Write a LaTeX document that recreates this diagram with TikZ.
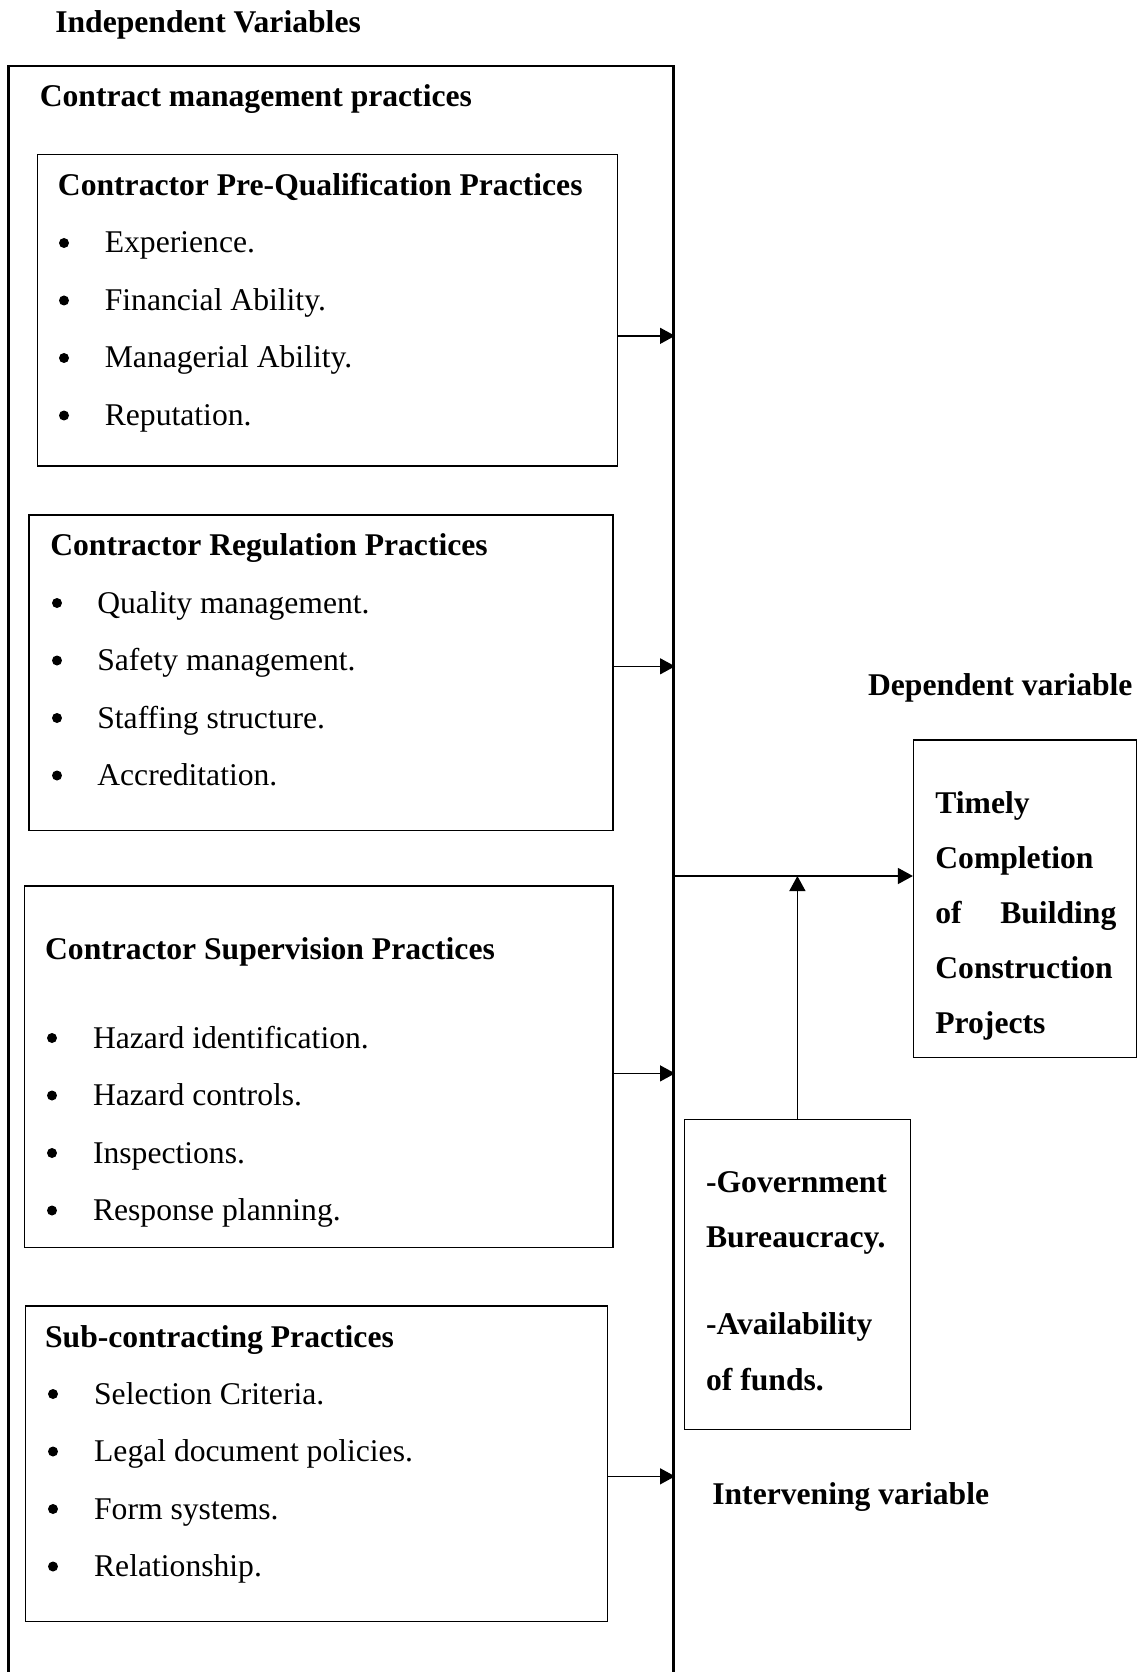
\documentclass[tikz,border=0pt]{standalone}
\usepackage{fontspec}
\setmainfont{Liberation Serif}
\usetikzlibrary{arrows.meta,fit,calc}

\tikzset{
  varbox/.style={draw,line width=0.8pt,inner sep=0pt},
  head/.style={font=\fontsize{18}{22}\selectfont\bfseries,inner sep=0pt,anchor=base west},
  item/.style={font=\fontsize{18}{22}\selectfont,inner sep=0pt,anchor=base west},
  dot/.style={circle,fill,inner sep=0pt,minimum size=0.2cm},
  link/.style={line width=0.8pt,-{Triangle[length=0.3cm,width=0.32cm]}}
}

\begin{document}
\begin{tikzpicture}[x=0.02cm,y=-0.02cm]
    \useasboundingbox (0,0) rectangle (1146,1672);

    % independent side
    \node[head] (indep) at (55,33) {Independent Variables};
    \node[varbox,line width=1.5pt,fit={(8.5,66) (673.7,1686)}] (frame) {};
    \node[head] (cmp) at (39.5,107) {Contract management practices};

    \node[varbox,fit={(37.3,154.6) (617.2,465.8)}] (preq) {};
    \node[head] (preqt) at (57.6,195.5) {Contractor Pre-Qualification Practices};
    \foreach \t [count=\i] in {Experience., Financial Ability., Managerial Ability., Reputation.}{
        \node[dot] (preqb\i) at (64,{243+57.5*(\i-1)}) {};
        \node[item] (preqi\i) at (104.5,{253+57.5*(\i-1)}) {\t};
    }

    \node[varbox,fit={(28.8,514.9) (613,830.4)}] (regu) {};
    \node[head] (regut) at (50,555.7) {Contractor Regulation Practices};
    \foreach \t [count=\i] in {Quality management., Safety management., Staffing structure., Accreditation.}{
        \node[dot] (regub\i) at (57,{603+57.5*(\i-1)}) {};
        \node[item] (regui\i) at (97,{613+57.5*(\i-1)}) {\t};
    }

    \node[varbox,fit={(24.5,885.8) (613,1247.2)}] (supv) {};
    \node[head] (supvt) at (44.8,959) {Contractor Supervision Practices};
    \foreach \t [count=\i] in {Hazard identification., Hazard controls., Inspections., Response planning.}{
        \node[dot] (supvb\i) at (52,{1038+57.5*(\i-1)}) {};
        \node[item] (supvi\i) at (92.7,{1048+57.5*(\i-1)}) {\t};
    }

    \node[varbox,fit={(25.6,1305.9) (607.6,1621.4)}] (subc) {};
    \node[head] (subct) at (44.8,1347) {Sub-contracting Practices};
    \foreach \t [count=\i] in {Selection Criteria., Legal document policies., Form systems., Relationship.}{
        \node[dot] (subcb\i) at (53,{1394+57.5*(\i-1)}) {};
        \node[item] (subci\i) at (93.8,{1404+57.5*(\i-1)}) {\t};
    }

    % dependent side
    \node[head] (dept) at (867.7,695) {Dependent variable};
    \node[varbox,fit={(913.6,739.8) (1136.4,1057.5)}] (dep) {};
    \node[head] (dep1) at (935,813) {Timely};
    \node[head] (dep2) at (935,868) {Completion};
    \node[head,text width=3.62cm] (dep3) at (935,923.5) {of\hfill Building};
    \node[head] (dep4) at (935,978) {Construction};
    \node[head] (dep5) at (935,1033) {Projects};

    % intervening
    \node[varbox,fit={(684.4,1119.3) (910.4,1429.5)}] (intv) {};
    \node[head] (intv1) at (705.7,1192) {-Government};
    \node[head] (intv2) at (705.7,1247.6) {Bureaucracy.};
    \node[head] (intv3) at (705.7,1334) {-Availability};
    \node[head] (intv4) at (705.7,1390) {of funds.};
    \node[head] (intvt) at (712,1504) {Intervening variable};

    % arrows
    \coordinate (a1) at ($(preq.north east)!0.582!(preq.south east)$);
    \coordinate (a2) at ($(regu.north east)!0.48!(regu.south east)$);
    \coordinate (a3) at ($(supv.north east)!0.519!(supv.south east)$);
    \coordinate (a4) at ($(subc.north east)!0.54!(subc.south east)$);
    \foreach \a in {a1,a2,a3,a4}
        \draw[link] (\a) -- (\a -| frame.east);
    \draw[link] (frame.east) -- (frame.east -| dep.west);
    \draw[link] (intv.north) -- (intv.north |- frame.east);
\end{tikzpicture}
\end{document}
